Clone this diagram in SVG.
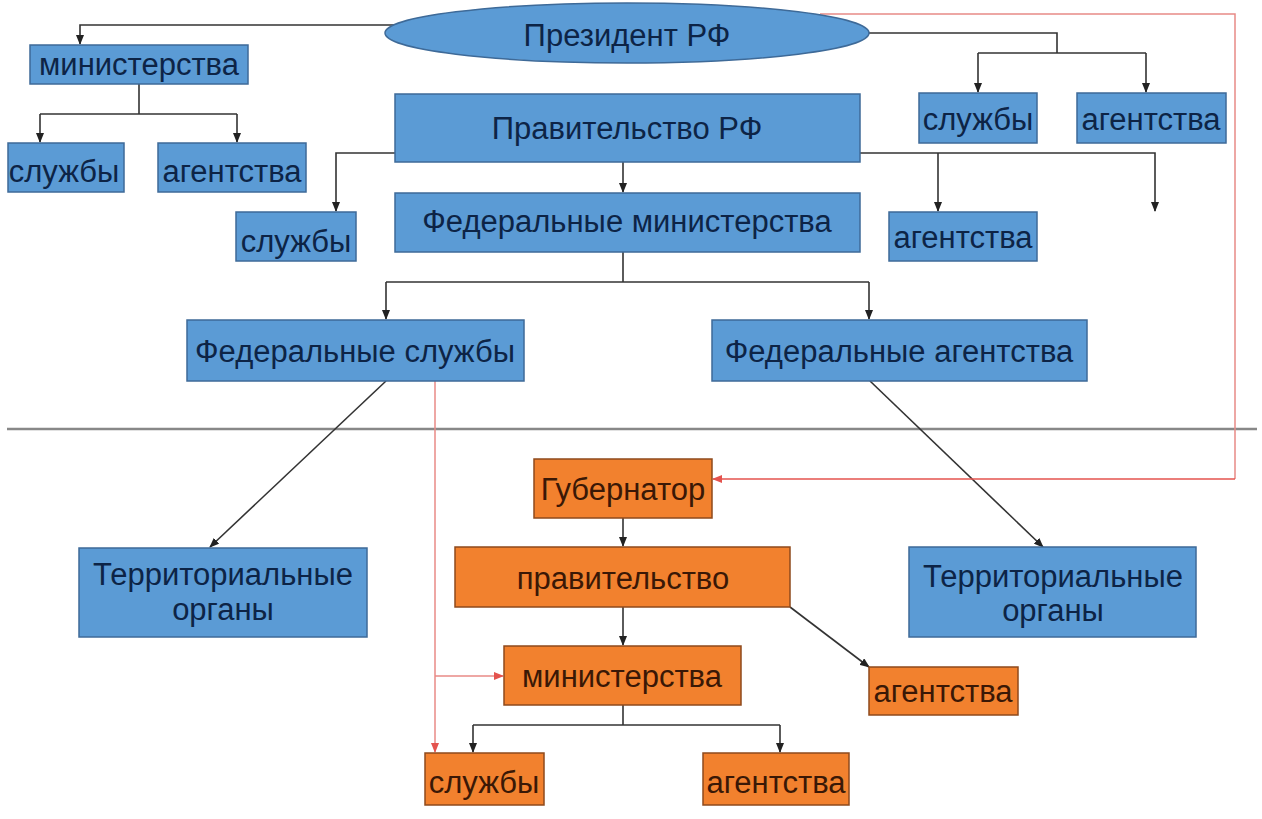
<svg xmlns="http://www.w3.org/2000/svg" width="1262" height="819" viewBox="0 0 1262 819">
<style>
.b{fill:#5b9bd5;stroke:#3e6a98;stroke-width:1.5}
.o{fill:#f2812e;stroke:#8e4a1c;stroke-width:1.5}
.tb{font-family:"Liberation Sans",Arial,sans-serif;font-size:31px;fill:#0d2446;text-anchor:middle}
.to{font-family:"Liberation Sans",Arial,sans-serif;font-size:31px;fill:#3a1806;text-anchor:middle}
.c{fill:none;stroke:#333;stroke-width:1.6}
.r{fill:none;stroke:#e4534e;stroke-width:1.5}
.rl{fill:none;stroke:#e88a86;stroke-width:1.5}
</style>
<defs>
<marker id="a" markerWidth="10" markerHeight="8" refX="9" refY="4" orient="auto" markerUnits="userSpaceOnUse"><path d="M0,0 L10,4 L0,8 Z" fill="#222"/></marker>
<marker id="ar" markerWidth="10" markerHeight="8" refX="9" refY="4" orient="auto" markerUnits="userSpaceOnUse"><path d="M0,0 L10,4 L0,8 Z" fill="#e4534e"/></marker>
</defs>
<rect width="1262" height="819" fill="#fff"/>
<line x1="7" y1="429" x2="1257" y2="429" stroke="#888" stroke-width="2.5"/>
<g id="connectors">
<path class="c" d="M394,25 H80 V44" marker-end="url(#a)"/>
<path class="c" d="M139,84 V114"/>
<path class="c" d="M40,114 H237"/>
<path class="c" d="M40,114 V142" marker-end="url(#a)"/>
<path class="c" d="M237,114 V142" marker-end="url(#a)"/>
<path class="c" d="M866,33 H1057 V53"/>
<path class="c" d="M978,53 H1146"/>
<path class="c" d="M978,53 V92" marker-end="url(#a)"/>
<path class="c" d="M1146,53 V92" marker-end="url(#a)"/>
<path class="c" d="M395,153 H336 V211" marker-end="url(#a)"/>
<path class="c" d="M860,153 H1155 V211" marker-end="url(#a)"/>
<path class="c" d="M938,153 V211" marker-end="url(#a)"/>
<path class="c" d="M623,162 V192" marker-end="url(#a)"/>
<path class="c" d="M623,252 V282"/>
<path class="c" d="M386,282 H869"/>
<path class="c" d="M386,282 V319" marker-end="url(#a)"/>
<path class="c" d="M869,282 V319" marker-end="url(#a)"/>
<path class="c" d="M386,381 L210,547" marker-end="url(#a)"/>
<path class="c" d="M870,381 L1043,547" marker-end="url(#a)"/>
<path class="c" d="M623,518 V546" marker-end="url(#a)"/>
<path class="c" d="M623,607 V645" marker-end="url(#a)"/>
<path class="c" d="M790,607 L869,667" marker-end="url(#a)"/>
<path class="c" d="M623,705 V725"/>
<path class="c" d="M473,725 H780"/>
<path class="c" d="M473,725 V752" marker-end="url(#a)"/>
<path class="c" d="M780,725 V752" marker-end="url(#a)"/>
<path class="rl" d="M820,14 H1235 V479"/>
<path class="r" d="M1235,479 H713" marker-end="url(#ar)"/>
<path class="rl" d="M435,381 V752" marker-end="url(#ar)"/>
<path class="rl" d="M435,676 H503" marker-end="url(#ar)"/>
</g>
<g id="president"><ellipse class="b" cx="627" cy="33" rx="242" ry="30"/><text class="tb" x="627" y="46">Президент РФ</text></g>
<g id="min-top"><rect class="b" x="30" y="45" width="218" height="39"/><text class="tb" x="139" y="75">министерства</text></g>
<g id="sl-top"><rect class="b" x="8" y="143" width="116" height="49"/><text class="tb" x="64" y="182">службы</text></g>
<g id="ag-top"><rect class="b" x="158" y="143" width="148" height="49"/><text class="tb" x="232" y="182">агентства</text></g>
<g id="gov-rf"><rect class="b" x="395" y="94" width="465" height="68"/><text class="tb" x="627" y="139">Правительство РФ</text></g>
<g id="fed-min"><rect class="b" x="395" y="193" width="465" height="59"/><text class="tb" x="627" y="232">Федеральные министерства</text></g>
<g id="sl-mid"><rect class="b" x="236" y="212" width="120" height="49"/><text class="tb" x="296" y="252">службы</text></g>
<g id="ag-mid"><rect class="b" x="889" y="212" width="148" height="49"/><text class="tb" x="963" y="248">агентства</text></g>
<g id="sl-pres"><rect class="b" x="919" y="93" width="118" height="50"/><text class="tb" x="978" y="130">службы</text></g>
<g id="ag-pres"><rect class="b" x="1077" y="93" width="149" height="50"/><text class="tb" x="1151" y="130">агентства</text></g>
<g id="fed-sl"><rect class="b" x="187" y="320" width="337" height="61"/><text class="tb" x="355" y="362">Федеральные службы</text></g>
<g id="fed-ag"><rect class="b" x="712" y="320" width="375" height="61"/><text class="tb" x="899" y="362">Федеральные агентства</text></g>
<g id="terr-left"><rect class="b" x="79" y="548" width="288" height="89"/><text class="tb" x="223" y="585">Территориальные</text><text class="tb" x="223" y="620">органы</text></g>
<g id="terr-right"><rect class="b" x="909" y="547" width="287" height="90"/><text class="tb" x="1053" y="587">Территориальные</text><text class="tb" x="1053" y="621">органы</text></g>
<g id="governor"><rect class="o" x="534" y="459" width="178" height="59"/><text class="to" x="623" y="500">Губернатор</text></g>
<g id="reg-gov"><rect class="o" x="455" y="547" width="335" height="60"/><text class="to" x="623" y="589">правительство</text></g>
<g id="reg-min"><rect class="o" x="504" y="646" width="237" height="59"/><text class="to" x="622" y="687">министерства</text></g>
<g id="reg-sl"><rect class="o" x="425" y="753" width="119" height="52"/><text class="to" x="484" y="793">службы</text></g>
<g id="reg-ag"><rect class="o" x="703" y="753" width="146" height="52"/><text class="to" x="776" y="793">агентства</text></g>
<g id="reg-ag2"><rect class="o" x="869" y="667" width="149" height="48"/><text class="to" x="943" y="702">агентства</text></g>
</svg>
